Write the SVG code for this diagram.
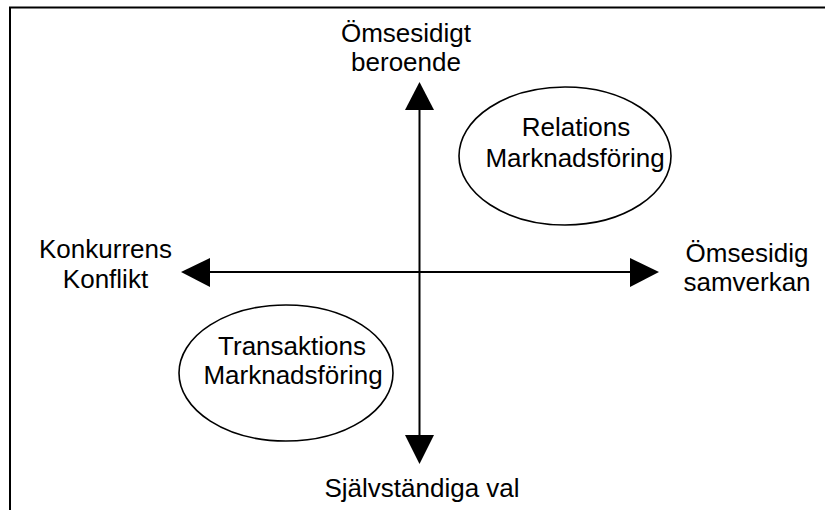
<svg xmlns="http://www.w3.org/2000/svg" width="825" height="510" viewBox="0 0 825 510">
  <style>
    .frame { fill: none; stroke: #000; stroke-width: 2; }
    .axis { fill: none; stroke: #000; stroke-width: 2; }
    .head { fill: #000; stroke: none; }
    .oval { fill: #fff; stroke: #000; stroke-width: 1.6; }
    .label { font-family: "Liberation Sans", Arial, sans-serif; font-size: 26px; fill: #000; text-anchor: middle; }
  </style>
  <rect width="825" height="510" fill="#fff"/>
  <!-- open frame: top and left edges -->
  <path class="frame" d="M10,510 V7.5 H825"/>

  <g id="connectors">
    <line class="axis" x1="419.5" y1="105" x2="419.5" y2="440"/>
    <line class="axis" x1="205" y1="272" x2="635" y2="272"/>
    <polygon class="head" points="419.5,82 405,110 434,110"/>
    <polygon class="head" points="419.5,464 405,435 434,435"/>
    <polygon class="head" points="181,272 210,258 210,287"/>
    <polygon class="head" points="659,272 630,258 630,287"/>
  </g>

  <g id="top-label">
    <text class="label" x="406" y="42">Ömsesidigt</text>
    <text class="label" x="406" y="71">beroende</text>
  </g>
  <g id="left-label">
    <text class="label" x="105.5" y="258">Konkurrens</text>
    <text class="label" x="105.5" y="288">Konflikt</text>
  </g>
  <g id="right-label">
    <text class="label" x="747" y="262">Ömsesidig</text>
    <text class="label" x="747" y="291">samverkan</text>
  </g>
  <g id="bottom-label">
    <text class="label" x="422" y="497">Självständiga val</text>
  </g>

  <g id="relations">
    <ellipse class="oval" cx="565" cy="156" rx="106" ry="69"/>
    <text class="label" x="576" y="136">Relations</text>
    <text class="label" x="575" y="167">Marknadsföring</text>
  </g>
  <g id="transaktions">
    <ellipse class="oval" cx="286" cy="373" rx="107" ry="68"/>
    <text class="label" x="292" y="355">Transaktions</text>
    <text class="label" x="293" y="384">Marknadsföring</text>
  </g>
</svg>
